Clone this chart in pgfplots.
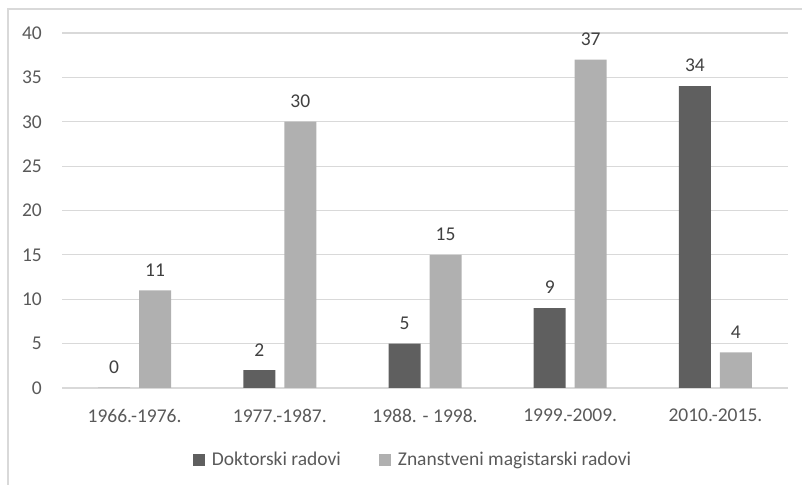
\documentclass[border=0pt]{standalone}
\usepackage{fontspec}
\setmainfont{Carlito}
\usepackage{pgfplots}
\pgfplotsset{compat=1.18}
\definecolor{darkbar}{HTML}{5F5F5F}
\definecolor{lightbar}{HTML}{B0B0B0}
\definecolor{gridc}{HTML}{D9D9D9}
\definecolor{txt}{HTML}{595959}
\definecolor{lbl}{HTML}{404040}
\begin{document}
\fontsize{19.5bp}{23bp}\selectfont
\begin{tikzpicture}
\useasboundingbox (0,0) rectangle (802bp,485bp);
% chart area border (cropped at right and bottom)
\draw[gridc, line width=1.2bp] (8bp,0) -- (8bp,476bp) -- (802bp,476bp);
\begin{axis}[
    at={(62bp,97bp)}, anchor=south west,
    scale only axis, width=726bp, height=355bp,
    ymin=0, ymax=40, xmin=-0.5, xmax=4.5,
    enlargelimits=false,
    ytick={0,5,...,40},
    xtick={0,1,2,3,4},
    xticklabels={1966.-1976.,1977.-1987.,1988. - 1998.,1999.-2009.,2010.-2015.},
    ymajorgrids,
    major grid style={gridc, line width=1.2bp},
    axis line style={draw=none},
    major tick length=0pt,
    /pgf/number format/assume math mode=true,
    tick label style={text=txt},
    xticklabel style={inner sep=0pt, anchor=north, yshift=-21bp},
    yticklabel style={inner sep=0pt, anchor=east, xshift=-20bp},
    ybar=9bp, bar width=32bp,
    nodes near coords,
    every node near coord/.append style={text=lbl, inner sep=0pt, anchor=south, yshift=14bp},
    legend columns=2,
    legend style={at={(axis description cs:0.4835,-0.2028)}, anchor=center,
        draw=none, fill=none, text=txt,
        /tikz/every odd column/.append style={column sep=5bp},
        /tikz/every even column/.append style={column sep=36bp}},
    legend cell align=left,
    legend image code/.code={\fill[#1] (0bp,-6bp) rectangle (12bp,6bp);},
]
\addplot[fill=darkbar, draw=none] coordinates {(0,0) (1,2) (2,5) (3,9) (4,34)};
\addplot[fill=lightbar, draw=none] coordinates {(0,11) (1,30) (2,15) (3,37) (4,4)};
\legend{Doktorski radovi, Znanstveni magistarski radovi}
\end{axis}
\end{tikzpicture}
\end{document}
